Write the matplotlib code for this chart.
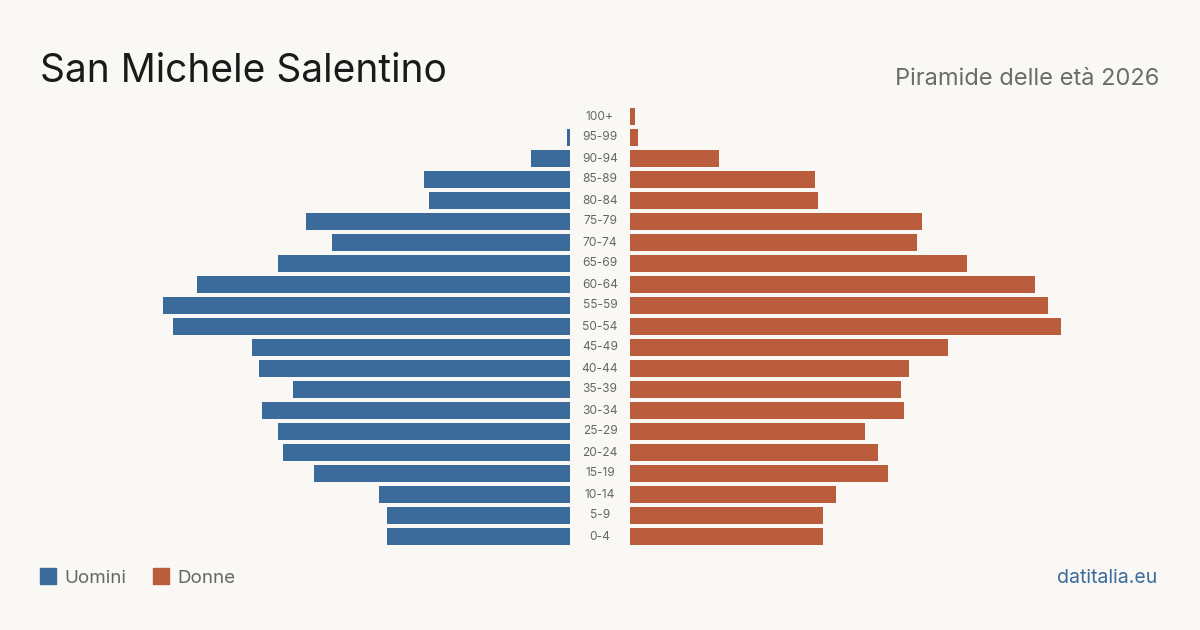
import matplotlib.pyplot as plt
from matplotlib.patches import Rectangle

age_groups = ['100+', '95-99', '90-94', '85-89', '80-84', '75-79', '70-74', '65-69',
              '60-64', '55-59', '50-54', '45-49', '40-44', '35-39', '30-34', '25-29',
              '20-24', '15-19', '10-14', '5-9', '0-4']
men = [0, 1, 15, 56, 54, 101, 91, 112, 143, 156, 152, 122, 119, 106, 118, 112, 110, 98, 73, 70, 70]
women = [2, 3, 34, 71, 72, 112, 110, 129, 155, 160, 165, 122, 107, 104, 105, 90, 95, 99, 79, 74, 74]

BG = '#f9f8f4'
BLUE = '#3b6b9b'
ORANGE = '#b95d3d'
W, H = 1200, 630
SPAN = 170  # persons covered by each half
PX = 2.61   # pixels per person

plt.rcParams['font.family'] = ['Inter', 'DejaVu Sans']
fig = plt.figure(figsize=(12, 6.3), dpi=100, facecolor=BG)


def fig_rect(x0, y_top, x1, y_bot):
    return [x0 / W, 1 - y_bot / H, (x1 - x0) / W, (y_bot - y_top) / H]


ax_l = fig.add_axes(fig_rect(570 - SPAN * PX, 106, 570, 547))
ax_r = fig.add_axes(fig_rect(630, 106, 630 + SPAN * PX, 547))

ypos = list(range(len(age_groups)))
ax_l.barh(ypos, men, height=0.81, color=BLUE)
ax_r.barh(ypos, women, height=0.81, color=ORANGE)
ax_l.set_xlim(SPAN, 0)
ax_r.set_xlim(0, SPAN)
for ax in (ax_l, ax_r):
    ax.set_ylim(len(age_groups) - 0.5, -0.5)
    ax.axis('off')

for i, lab in enumerate(age_groups):
    ax_l.annotate(lab, xy=(1, i), xycoords=('axes fraction', 'data'),
                  xytext=(30, 0), textcoords='offset pixels',
                  ha='center', va='center', fontsize=8.6, color='#666666')

fig.text(40 / W, 1 - 82 / H, 'San Michele Salentino', fontsize=28, color='#1a1a1a',
         ha='left', va='baseline')
fig.text(1159 / W, 1 - 85 / H, 'Piramide delle età 2026', fontsize=17, color='#6b6b6b',
         ha='right', va='baseline')

fig.patches.append(Rectangle((40 / W, 1 - 584 / H), 16 / W, 16 / H,
                             transform=fig.transFigure, color=BLUE))
fig.text(64 / W, 1 - 583 / H, 'Uomini', fontsize=13.5, color='#666666', ha='left', va='baseline')
fig.patches.append(Rectangle((153 / W, 1 - 584 / H), 16 / W, 16 / H,
                             transform=fig.transFigure, color=ORANGE))
fig.text(177 / W, 1 - 583 / H, 'Donne', fontsize=13.5, color='#666666', ha='left', va='baseline')
fig.text(1157 / W, 1 - 583 / H, 'datitalia.eu', fontsize=14, color=BLUE, ha='right', va='baseline')

fig.savefig('out.png', dpi=100, facecolor=BG)
